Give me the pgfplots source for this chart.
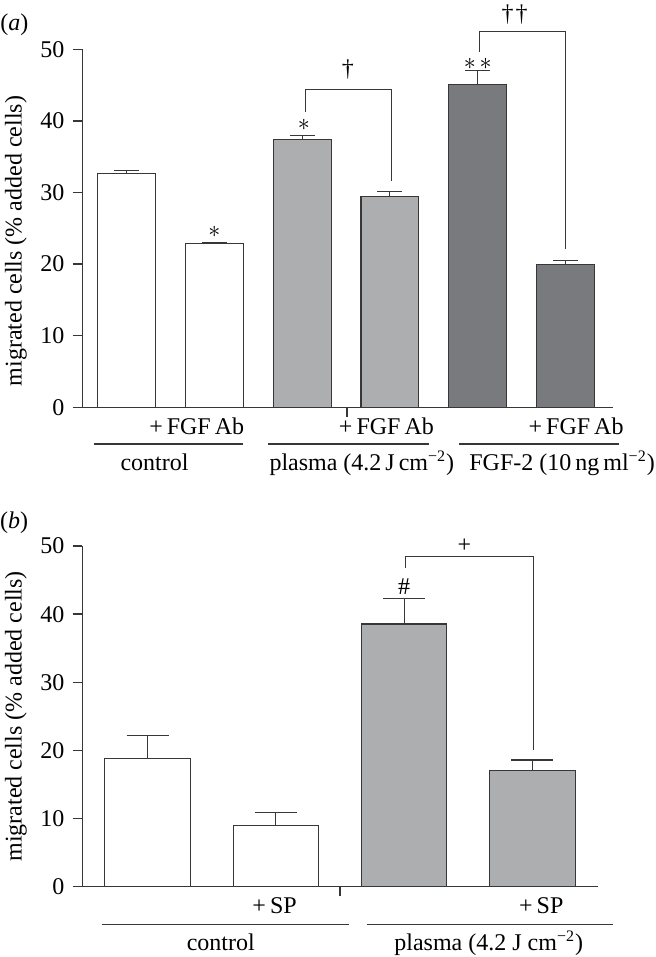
\documentclass[border=0pt]{standalone}
\usepackage{fontspec}
\setmainfont{Liberation Serif}
\usepackage{pgfplots}
\pgfplotsset{compat=1.18}
\definecolor{lgray}{RGB}{173,174,176}
\definecolor{dgray}{RGB}{121,122,126}
\definecolor{ln}{RGB}{55,55,55}
\pgfplotsset{
  myaxis/.style={
    scale only axis, anchor=south west,
    axis lines*=left,
    ymin=0, ymax=50, ytick={0,10,20,30,40,50},
    enlargelimits=false,
    tick align=outside, major tick length=4.8pt,
    axis line style={line width=0.65pt, ln},
    tick style={line width=0.65pt, ln},
    xticklabels={},
    clip=false,
    /pgf/number format/assume math mode=true,
    ylabel={migrated cells (\% added cells)},
  },
}
\begin{document}
\fontsize{12}{14}\selectfont
\begin{tikzpicture}
\useasboundingbox (0,0) rectangle (328pt,-478.5pt);
% ---------------- panel (a)
\begin{axis}[myaxis,
  at={(41.15pt,-203.65pt)}, width=265.35pt, height=179pt,
  xmin=0.497, xmax=6.54, xtick={3.51},
  every axis y label/.style={at={(axis description cs:-0.125,0.4645)}, rotate=90, anchor=center},
]
\addplot[fill=white, draw=ln, line width=0.55pt, ybar, bar shift=0pt, bar width=0.66,
  error bars/.cd, y dir=plus, y explicit,
  error bar style={line width=0.55pt, ln},
  error mark options={rotate=90, line width=0.55pt, ln, mark size=6.25pt}]
  coordinates {(1,32.6) +- (0,0.5) (2,22.85) +- (0,0.2)};
\addplot[fill=lgray, draw=ln, line width=0.55pt, ybar, bar shift=0pt, bar width=0.66,
  error bars/.cd, y dir=plus, y explicit,
  error bar style={line width=0.55pt, ln},
  error mark options={rotate=90, line width=0.55pt, ln, mark size=6.25pt}]
  coordinates {(3,37.4) +- (0,0.5) (4,29.4) +- (0,0.8)};
\addplot[fill=dgray, draw=ln, line width=0.55pt, ybar, bar shift=0pt, bar width=0.66,
  error bars/.cd, y dir=plus, y explicit,
  error bar style={line width=0.55pt, ln},
  error mark options={rotate=90, line width=0.55pt, ln, mark size=6.25pt}]
  coordinates {(5,45.1) +- (0,1.9) (6,20.0) +- (0,0.5)};
% significance
\draw[ln, line width=0.55pt] (axis cs:3.04,41.3) |- (axis cs:4.02,44.4) -- (axis cs:4.02,31.6);
\draw[ln, line width=0.55pt] (axis cs:5.02,49.6) |- (axis cs:6.0,52.55) -- (axis cs:6.0,22.1);
\node at (axis cs:2,24.5) {$\ast$};
\node at (axis cs:3.02,39.4) {$\ast$};
\node at (axis cs:5,47.9) {${\ast}\hspace{2pt}{\ast}$};
\node at (axis cs:3.52,47.1) {\dag};
\node at (axis cs:5.42,54.9) {\dag\hspace{1pt}\dag};
% category labels
\node[anchor=base] at (axis cs:1.80,-3.85) {+\,FGF\,Ab};
\node[anchor=base] at (axis cs:3.96,-3.85) {+\,FGF\,Ab};
\node[anchor=base] at (axis cs:6.12,-3.85) {+\,FGF\,Ab};
\draw[ln, line width=0.55pt] (axis cs:0.63,-5.13) -- (axis cs:2.33,-5.13);
\draw[ln, line width=0.55pt] (axis cs:2.61,-5.13) -- (axis cs:4.44,-5.13);
\draw[ln, line width=0.55pt] (axis cs:4.79,-5.13) -- (axis cs:6.61,-5.13);
\node[anchor=base] at (axis cs:1.32,-8.76) {control};
\node[anchor=base] at (axis cs:3.68,-8.76) {plasma (4.2\,J\,cm\textsuperscript{−2})};
\node[anchor=base] at (axis cs:5.96,-8.76) {FGF-2 (10\,ng\,ml\textsuperscript{−2})};
\node[anchor=west, inner sep=0pt] at (axis description cs:-0.155,1.068) {(\textit{a})};
\end{axis}
% ---------------- panel (b)
\begin{axis}[myaxis,
  at={(41.15pt,-443.35pt)}, width=257.7pt, height=170.35pt,
  xmin=0.49, xmax=4.51, xtick={2.5},
  every axis y label/.style={at={(axis description cs:-0.129,0.5)}, rotate=90, anchor=center},
]
\addplot[fill=white, draw=ln, line width=0.55pt, ybar, bar shift=0pt, bar width=0.668,
  error bars/.cd, y dir=plus, y explicit,
  error bar style={line width=0.55pt, ln},
  error mark options={rotate=90, line width=0.55pt, ln, mark size=10.5pt}]
  coordinates {(1,18.85) +- (0,3.35) (2,8.95) +- (0,2.0)};
\addplot[fill=lgray, draw=ln, line width=0.55pt, ybar, bar shift=0pt, bar width=0.668,
  error bars/.cd, y dir=plus, y explicit,
  error bar style={line width=0.55pt, ln},
  error mark options={rotate=90, line width=0.55pt, ln, mark size=10.5pt}]
  coordinates {(3,38.56) +- (0,3.75) (4,17.1) +- (0,1.5)};
\draw[ln, line width=0.55pt] (axis cs:3.01,46.7) |- (axis cs:4.01,48.5) -- (axis cs:4.01,20.1);
\node at (axis cs:3.0,44.1) {\#};
\node at (axis cs:3.47,50.0) {+};
\node[anchor=base] at (axis cs:1.99,-3.9) {+\,SP};
\node[anchor=base] at (axis cs:4.07,-3.9) {+\,SP};
\draw[ln, line width=0.55pt] (axis cs:0.64,-5.52) -- (axis cs:2.57,-5.52);
\draw[ln, line width=0.55pt] (axis cs:2.71,-5.52) -- (axis cs:4.63,-5.52);
\node[anchor=base] at (axis cs:1.57,-9.29) {control};
\node[anchor=base] at (axis cs:3.66,-9.29) {plasma (4.2 J cm\textsuperscript{−2})};
\node[anchor=west, inner sep=0pt] at (axis description cs:-0.16,1.0675) {(\textit{b})};
\end{axis}
\end{tikzpicture}
\end{document}
